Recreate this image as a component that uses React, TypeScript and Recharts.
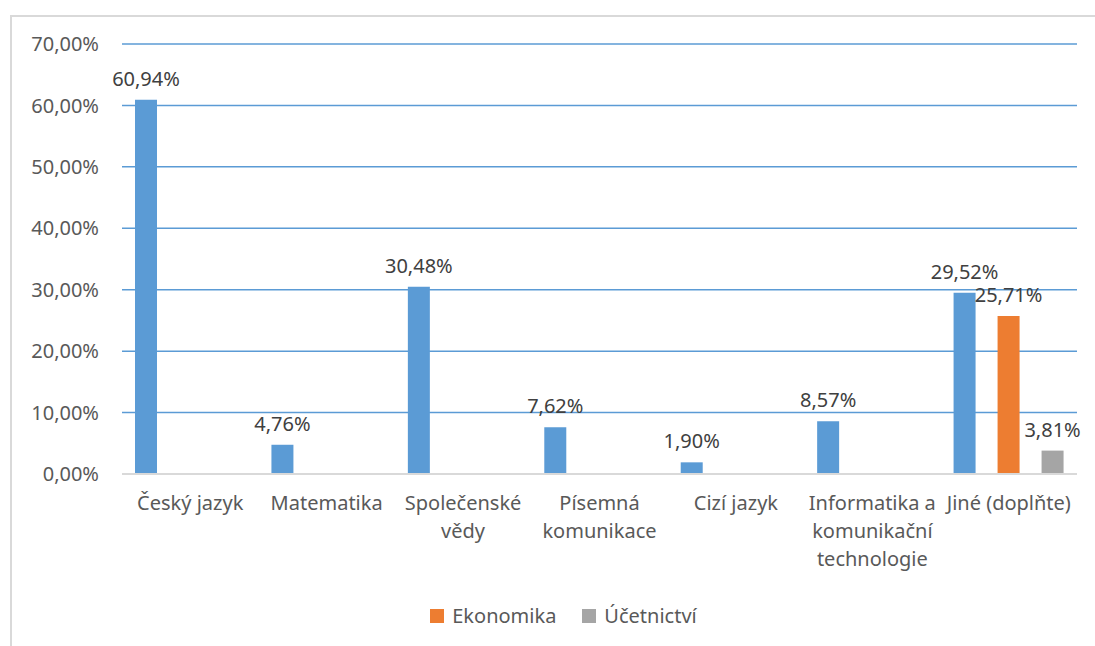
import React from "react";
import { BarChart, Bar, XAxis, YAxis, CartesianGrid, Legend, LabelList, Text } from "recharts";

const categories = [
  "Český jazyk",
  "Matematika",
  "Společenské vědy",
  "Písemná komunikace",
  "Cizí jazyk",
  "Informatika a komunikační technologie",
  "Jiné (doplňte)",
];
const mainValues = [60.94, 4.76, 30.48, 7.62, 1.9, 8.57, 29.52];
const ekonomikaValues: (number | null)[] = [null, null, null, null, null, null, 25.71];
const ucetnictviValues: (number | null)[] = [null, null, null, null, null, null, 3.81];
const yTicks = [0, 10, 20, 30, 40, 50, 60, 70];

const data = categories.map((c, i) => ({
  name: c,
  main: mainValues[i],
  ekonomika: ekonomikaValues[i],
  ucetnictvi: ucetnictviValues[i],
}));

const FONT = "'Noto Sans', 'Open Sans', sans-serif";
const TEXT = "#595959";
const FS = 20;

const fmt = (v: any) =>
  v === null || v === undefined ? "" : Number(v).toFixed(2).replace(".", ",") + "%";

const CategoryTick = (props: any) => {
  const { x, y, payload } = props;
  return (
    <Text
      x={x}
      y={y}
      width={132}
      textAnchor="middle"
      verticalAnchor="start"
      lineHeight={28}
      fill={TEXT}
      fontSize={FS}
      fontFamily={FONT}
      style={{ fontFamily: FONT, fontSize: FS }}
    >
      {payload.value}
    </Text>
  );
};

const LegendContent = (props: any) => {
  const items = (props.payload || []).filter((p: any) => p.type !== "none");
  return (
    <div style={{ display: "flex", justifyContent: "center", gap: 26, fontFamily: FONT, fontSize: FS, color: TEXT, paddingTop: 11, paddingLeft: 50 }}>
      {items.map((p: any) => (
        <div key={p.value} style={{ display: "flex", alignItems: "center" }}>
          <span style={{ display: "inline-block", width: 14, height: 14, background: p.color, marginRight: 8 }} />
          <span>{p.value}</span>
        </div>
      ))}
    </div>
  );
};

export default function App() {
  return (
    <div style={{ position: "absolute", left: 0, top: 0, width: 1095, height: 646, background: "#fff", overflow: "hidden" }}>
      <div
        style={{
          position: "absolute",
          left: 10,
          top: 15,
          width: 1095,
          height: 700,
          borderLeft: "2px solid #d9d9d9",
          borderTop: "2px solid #d9d9d9",
        }}
      />
      <div style={{ position: "absolute", left: 0, top: 0 }}>
        <BarChart
          width={1095}
          height={646}
          data={data}
          margin={{ top: 44, right: 18, bottom: 0, left: 0 }}
          barGap={22}
          barCategoryGap={13}
        >
          <CartesianGrid vertical={false} stroke="#5b9bd5" strokeWidth={1.5} />
          <XAxis
            dataKey="name"
            height={172 - 55}
            interval={0}
            tickLine={false}
            axisLine={{ stroke: "#d9d9d9", strokeWidth: 2 }}
            tick={<CategoryTick />}
            tickMargin={16}
          />
          <YAxis
            width={122}
            domain={[0, 70]}
            ticks={yTicks}
            tickLine={false}
            axisLine={false}
            tickMargin={17}
            tickFormatter={fmt}
            tick={{ fill: TEXT, fontFamily: FONT, fontSize: FS }}
          />
          <Legend verticalAlign="bottom" height={55} content={<LegendContent />} />
          <Bar dataKey="main" name="Řada1" fill="#5b9bd5" barSize={22} legendType="none" isAnimationActive={false}>
            <LabelList dataKey="main" position="top" offset={14} formatter={fmt} style={{ fill: "#404040", fontFamily: FONT, fontSize: FS }} />
          </Bar>
          <Bar dataKey="ekonomika" name="Ekonomika" fill="#ed7d31" barSize={22} isAnimationActive={false}>
            <LabelList dataKey="ekonomika" position="top" offset={14} formatter={fmt} style={{ fill: "#404040", fontFamily: FONT, fontSize: FS }} />
          </Bar>
          <Bar dataKey="ucetnictvi" name="Účetnictví" fill="#a5a5a5" barSize={22} isAnimationActive={false}>
            <LabelList dataKey="ucetnictvi" position="top" offset={14} formatter={fmt} style={{ fill: "#404040", fontFamily: FONT, fontSize: FS }} />
          </Bar>
        </BarChart>
      </div>
    </div>
  );
}
